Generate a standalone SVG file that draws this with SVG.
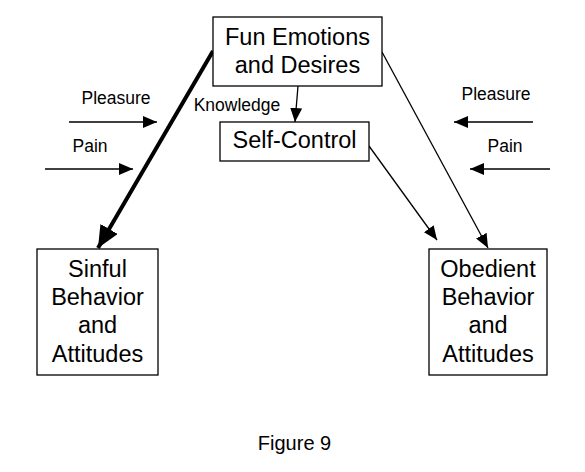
<svg xmlns="http://www.w3.org/2000/svg" width="585" height="472" viewBox="0 0 585 472">
<style>
.box{fill:#fff;stroke:#000;stroke-width:1.3}
.t{font-family:"Liberation Sans",Arial,sans-serif;fill:#000;text-anchor:middle}
.big{font-size:23.5px}
.sm{font-size:17.5px}
.ln{stroke:#000;stroke-width:1.3;fill:none}
.thick{stroke:#000;stroke-width:4;fill:none}
</style>
<defs>
<marker id="arr" markerUnits="userSpaceOnUse" markerWidth="14" markerHeight="12" refX="14" refY="6" orient="auto" viewBox="0 0 14 12">
<path d="M0,0 L14,6 L0,12 z" fill="#000"/>
</marker>
<marker id="arrBig" markerUnits="userSpaceOnUse" markerWidth="22" markerHeight="20" refX="22" refY="10" orient="auto" viewBox="0 0 22 20">
<path d="M0,0 L22,10 L0,20 z" fill="#000"/>
</marker>
</defs>
<rect width="585" height="472" fill="#fff"/>
<g id="connectors">
<line class="ln" x1="298" y1="86" x2="295" y2="122" marker-end="url(#arr)"/>
<line class="thick" x1="213" y1="51" x2="98" y2="248" marker-end="url(#arrBig)"/>
<line class="ln" x1="382" y1="52" x2="488" y2="248" marker-end="url(#arr)"/>
<line class="ln" x1="369" y1="146" x2="437" y2="240" marker-end="url(#arr)"/>
<line class="ln" x1="69" y1="122" x2="157" y2="122" marker-end="url(#arr)"/>
<line class="ln" x1="45" y1="169" x2="133" y2="169" marker-end="url(#arr)"/>
<line class="ln" x1="533" y1="122" x2="454" y2="122" marker-end="url(#arr)"/>
<line class="ln" x1="550" y1="169" x2="470" y2="169" marker-end="url(#arr)"/>
</g>
<g id="labels">
<text class="t sm" x="237" y="111">Knowledge</text>
<text class="t sm" x="116" y="104">Pleasure</text>
<text class="t sm" x="90" y="152">Pain</text>
<text class="t sm" x="496" y="100">Pleasure</text>
<text class="t sm" x="505" y="152">Pain</text>
</g>
<g id="fun">
<rect class="box" x="213" y="17" width="169" height="69"/>
<text class="t big" x="297.5" y="45">Fun Emotions</text>
<text class="t big" x="297.5" y="73">and Desires</text>
</g>
<g id="self">
<rect class="box" x="220" y="122" width="149" height="39"/>
<text class="t big" x="294.5" y="148">Self-Control</text>
</g>
<g id="sinful">
<rect class="box" x="37" y="249" width="121" height="126"/>
<text class="t big" x="97.5" y="277">Sinful</text>
<text class="t big" x="97.5" y="305">Behavior</text>
<text class="t big" x="97.5" y="333">and</text>
<text class="t big" x="97.5" y="362">Attitudes</text>
</g>
<g id="obedient">
<rect class="box" x="429" y="249" width="118" height="126"/>
<text class="t big" x="488" y="277">Obedient</text>
<text class="t big" x="488" y="305">Behavior</text>
<text class="t big" x="488" y="333">and</text>
<text class="t big" x="488" y="362">Attitudes</text>
</g>
<g id="caption">
<text class="t" style="font-size:20px" x="294.5" y="450">Figure 9</text>
</g>
</svg>
